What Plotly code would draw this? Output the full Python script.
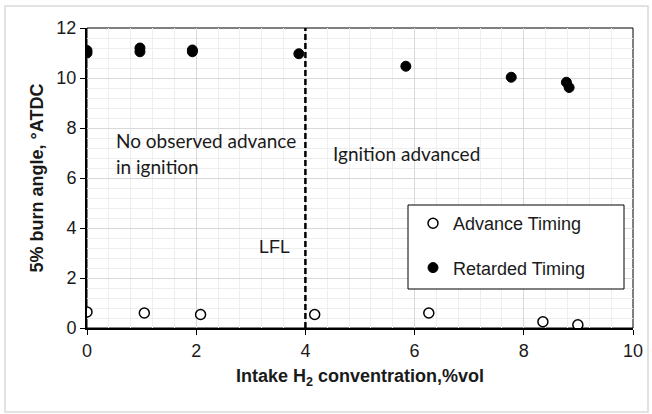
import plotly.graph_objects as go

# Data
adv_x = [0.0, 1.05, 2.08, 4.17, 6.26, 8.35, 8.99]
adv_y = [0.64, 0.60, 0.54, 0.54, 0.60, 0.25, 0.13]

ret_x = [0.0, 0.0, 0.97, 0.97, 1.93, 1.93, 3.88, 5.84, 7.77, 8.78, 8.83]
ret_y = [11.0, 11.1, 11.2, 11.05, 11.12, 11.05, 10.97, 10.47, 10.03, 9.83, 9.62]

lfl_x = 4
x_ticks = [0, 2, 4, 6, 8, 10]
y_ticks = [0, 2, 4, 6, 8, 10, 12]

W, H = 652, 414
ml, mr, mt, mb = 87, 19, 28, 86
pw, ph = W - ml - mr, H - mt - mb

def px_to_paper_x(px):
    return (px - ml) / pw

def px_to_paper_y(py):
    return (H - mb - py) / ph

fig = go.Figure()
fig.add_trace(go.Scatter(
    x=adv_x, y=adv_y, mode="markers", name="Advance Timing",
    marker=dict(symbol="circle", size=10, color="white",
                line=dict(color="black", width=1.5)),
    legendgroup="a",
))
fig.add_trace(go.Scatter(
    x=ret_x, y=ret_y, mode="markers", name="Retarded Timing",
    marker=dict(symbol="circle", size=10, color="black",
                line=dict(color="black", width=1)),
    legendgroup="b",
))

# LFL dashed line
fig.add_shape(type="line", x0=lfl_x, x1=lfl_x, y0=0, y1=12, xref="x", yref="y",
              line=dict(color="black", width=2.5, dash="6px,3px"))

# outer light border
fig.add_shape(type="rect", xref="paper", yref="paper",
              x0=px_to_paper_x(5), x1=px_to_paper_x(648),
              y0=px_to_paper_y(412), y1=px_to_paper_y(6),
              line=dict(color="#d9d9d9", width=1.5), layer="below")

# legend box (white, covers grid)
fig.add_shape(type="rect", xref="paper", yref="paper",
              x0=px_to_paper_x(408), x1=px_to_paper_x(624),
              y0=px_to_paper_y(289), y1=px_to_paper_y(205),
              line=dict(color="black", width=1), fillcolor="white", layer="above")

txt_font = dict(family="Lato, Open Sans, sans-serif", size=19, color="#1a1a1a")
fig.add_annotation(x=0.5, y=7.52, xref="x", yref="y", text="No observed advance",
                   showarrow=False, xanchor="left", yanchor="middle", align="left",
                   font=txt_font)
fig.add_annotation(x=0.5, y=6.48, xref="x", yref="y", text="in ignition",
                   showarrow=False, xanchor="left", yanchor="middle", align="left",
                   font=txt_font)
fig.add_annotation(x=4.47, y=7.0, xref="x", yref="y", text="Ignition advanced",
                   showarrow=False, xanchor="left", yanchor="middle", align="left",
                   font=txt_font)
fig.add_annotation(x=3.43, y=3.25, xref="x", yref="y", text="LFL",
                   showarrow=False, xanchor="center", yanchor="middle",
                   font=dict(family="Liberation Sans, Arial", size=18, color="#1a1a1a"))

fig.update_layout(
    width=W, height=H,
    margin=dict(l=ml, r=mr, t=mt, b=mb, autoexpand=False),
    paper_bgcolor="white", plot_bgcolor="white",
    font=dict(family="Liberation Sans, Arial, sans-serif", size=18, color="#1a1a1a"),
    showlegend=True,
    legend=dict(
        x=px_to_paper_x(413), y=px_to_paper_y(205), xanchor="left", yanchor="top",
        bgcolor="rgba(0,0,0,0)", borderwidth=0,
        font=dict(family="Liberation Sans, Arial, sans-serif", size=18, color="#1a1a1a"),
        tracegroupgap=18, itemwidth=30,
    ),
    xaxis=dict(
        range=[0, 10], tickvals=x_ticks, ticktext=[str(v) for v in x_ticks],
        showgrid=True, gridcolor="#d9d9d9", gridwidth=1,
        minor=dict(dtick=0.4, tick0=0, showgrid=True, gridcolor="#eeeeee", gridwidth=1),
        showline=True, linecolor="black", linewidth=2, mirror=False,
        ticks="outside", ticklen=5, tickcolor="black", tickwidth=1,
        zeroline=False,
        title=dict(text="<b>Intake H<sub>2</sub> conventration,%vol</b>",
                   font=dict(size=18, color="#1a1a1a"), standoff=10),
    ),
    yaxis=dict(
        range=[0, 12], tickvals=y_ticks, ticktext=[str(v) for v in y_ticks],
        showgrid=True, gridcolor="#d9d9d9", gridwidth=1,
        minor=dict(dtick=0.4, tick0=0, showgrid=True, gridcolor="#eeeeee", gridwidth=1),
        showline=True, linecolor="black", linewidth=2, mirror=False,
        ticks="outside", ticklen=5, tickcolor="black", tickwidth=1,
        zeroline=False,
        title=dict(text="<b>5% burn angle, °ATDC</b>",
                   font=dict(size=18, color="#1a1a1a"), standoff=8),
    ),
)

# thin plot border top/right
fig.add_shape(type="rect", xref="paper", yref="paper", x0=0, x1=1, y0=0, y1=1,
              line=dict(color="black", width=1), layer="below")

fig.write_html("out.html", config={"displayModeBar": False},
               post_script="document.body.style.margin='0';")
